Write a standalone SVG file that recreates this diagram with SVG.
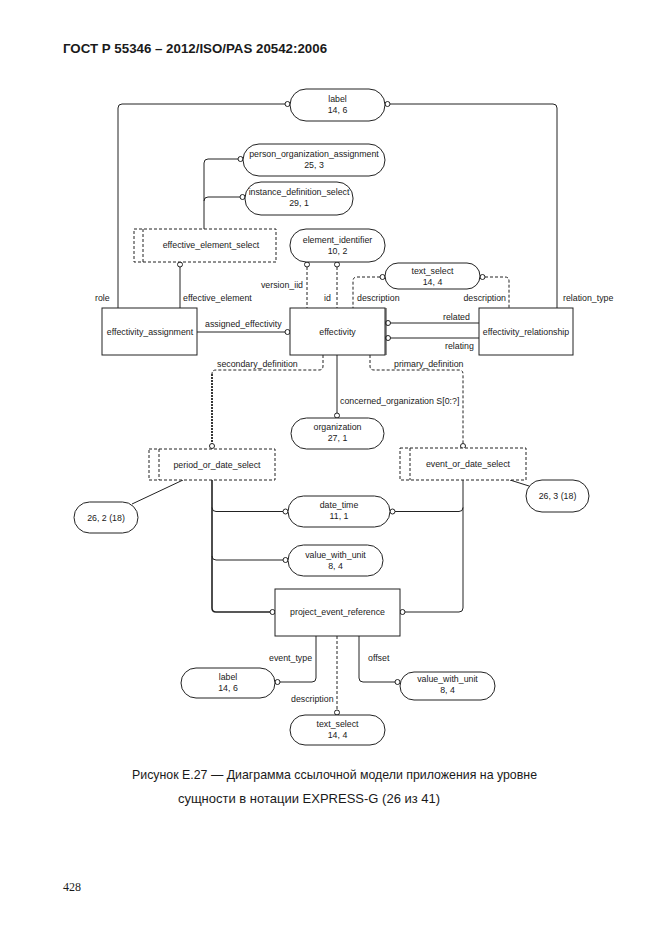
<svg xmlns="http://www.w3.org/2000/svg" width="662" height="935" viewBox="0 0 662 935">
<style>
text{font-family:"Liberation Sans",Arial,sans-serif;fill:#1a1a1a}
.n{font-size:8.8px;text-anchor:middle}
.l{font-size:8.8px}
.e{text-anchor:end}
.box{fill:#fff;stroke:#222;stroke-width:1}
.sel{fill:#fff;stroke:#222;stroke-width:1;stroke-dasharray:3 2}
.c{fill:none;stroke:#222;stroke-width:1}
.d{fill:none;stroke:#222;stroke-width:1;stroke-dasharray:3 2}
.o{fill:#fff;stroke:#222;stroke-width:1}
</style>
<rect width="662" height="935" fill="#fff"/>
<text x="63" y="53" style="font-size:13.3px;font-weight:bold">ГОСТ Р 55346 – 2012/ISO/PAS 20542:2006</text>

<g id="connectors">
<path class="c" d="M285,104 H122 Q118,104 118,108 V308"/>
<circle class="o" cx="287.5" cy="104" r="2.5"/>
<path class="c" d="M390,104 H553 Q557,104 557,108 V308"/>
<circle class="o" cx="387.5" cy="104" r="2.5"/>
<path class="c" d="M204,229 V163 Q204,159 208,159 H238"/>
<circle class="o" cx="240.5" cy="159" r="2.5"/>
<path class="c" d="M204,201 Q204,197 208,197 H240"/>
<circle class="o" cx="242.5" cy="197" r="2.5"/>
<path class="c" d="M180,267 V308"/>
<circle class="o" cx="180" cy="264.5" r="2.5"/>
<path class="d" d="M307,267 V308"/>
<circle class="o" cx="307" cy="264.5" r="2.5"/>
<path class="d" d="M337,267 V308"/>
<circle class="o" cx="337" cy="264.5" r="2.5"/>
<path class="d" d="M380,277 H357 Q353,277 353,281 V308"/>
<circle class="o" cx="382.5" cy="277" r="2.5"/>
<path class="d" d="M485,277 H505 Q509,277 509,281 V308"/>
<circle class="o" cx="482.5" cy="277" r="2.5"/>
<path class="c" d="M197,332 H285"/>
<circle class="o" cx="287.5" cy="332" r="2.5"/>
<path class="c" d="M390,323 H479"/>
<circle class="o" cx="388" cy="323" r="2.5"/>
<path class="c" d="M390,338 H479"/>
<circle class="o" cx="388" cy="338" r="2.5"/>
<path class="d" d="M323,355 V366 Q323,370 319,370 H216 Q212,370 212,374"/>
<path class="d" d="M212,374 V443.5" style="stroke-width:1.8;stroke-dasharray:2 1"/>
<circle class="o" cx="212" cy="446" r="2.5"/>
<path class="d" d="M370,355 V366 Q370,370 374,370 H459 Q463,370 463,374 V443.5"/>
<circle class="o" cx="463" cy="446" r="2.5"/>
<path class="c" d="M337,355 V413"/>
<circle class="o" cx="337" cy="415.5" r="2.5"/>
<path class="c" d="M212,480 V608 Q212,612 216,612 H270" style="stroke-width:1.6"/>
<path class="c" d="M212,507.5 Q212,511.5 216,511.5 H283"/>
<circle class="o" cx="285.5" cy="511.5" r="2.5"/>
<path class="c" d="M212,556 Q212,560 216,560 H283"/>
<circle class="o" cx="285.5" cy="560" r="2.5"/>
<circle class="o" cx="272.5" cy="612" r="2.5"/>
<path class="c" d="M463,480 V608 Q463,612 459,612 H405"/>
<circle class="o" cx="402.5" cy="612" r="2.5"/>
<path class="c" d="M463,507.5 Q463,511.5 459,511.5 H395"/>
<circle class="o" cx="392.5" cy="511.5" r="2.5"/>
<path class="c" d="M132,504 L183,480"/>
<path class="c" d="M529,486 L510,480"/>
<path class="c" d="M316,636 V678 Q316,682 312,682 H280"/>
<circle class="o" cx="277.5" cy="682" r="2.5"/>
<path class="d" d="M337,636 V710"/>
<circle class="o" cx="337" cy="712.5" r="2.5"/>
<path class="c" d="M359,636 V678 Q359,682 363,682 H395"/>
<circle class="o" cx="397.5" cy="682" r="2.5"/>
</g>

<g id="connector-labels" class="l">
<text x="95" y="301">role</text>
<text x="183" y="301">effective_element</text>
<text class="e" x="303" y="288">version_iid</text>
<text x="324" y="301">id</text>
<text x="357" y="301">description</text>
<text class="e" x="506" y="301">description</text>
<text x="563" y="301">relation_type</text>
<text x="205" y="327">assigned_effectivity</text>
<text x="443" y="320">related</text>
<text x="445" y="349">relating</text>
<text x="217" y="367">secondary_definition</text>
<text x="394" y="367">primary_definition</text>
<text x="340" y="404">concerned_organization S[0:?]</text>
<text x="269" y="661">event_type</text>
<text x="368" y="661">offset</text>
<text x="291" y="702">description</text>
</g>

<g id="label_top"><rect class="box" x="290" y="89" width="95" height="32" rx="16"/><text class="n" x="337.5" y="102">label</text><text class="n" x="337.5" y="113">14, 6</text></g>
<g id="person_organization_assignment"><rect class="box" x="243" y="144" width="142" height="32" rx="16"/><text class="n" x="314" y="157">person_organization_assignment</text><text class="n" x="314" y="168">25, 3</text></g>
<g id="instance_definition_select"><rect class="box" x="245" y="182" width="108" height="33" rx="16"/><text class="n" x="299" y="195">instance_definition_select</text><text class="n" x="299" y="206">29, 1</text></g>
<g id="effective_element_select"><rect class="sel" x="134" y="229" width="142" height="33"/><path class="d" d="M143,229 V262"/><text class="n" x="211" y="248">effective_element_select</text></g>
<g id="element_identifier"><rect class="box" x="290" y="229" width="95" height="33" rx="16"/><text class="n" x="337.5" y="243">element_identifier</text><text class="n" x="337.5" y="254">10, 2</text></g>
<g id="text_select_top"><rect class="box" x="385" y="263" width="95" height="26" rx="13"/><text class="n" x="432.5" y="274">text_select</text><text class="n" x="432.5" y="285">14, 4</text></g>
<g id="effectivity_assignment"><rect class="box" x="102" y="308" width="95" height="47"/><text class="n" x="150" y="335">effectivity_assignment</text></g>
<g id="effectivity"><rect class="box" x="290" y="308" width="95" height="47"/><path class="c" d="M386,308 V355"/><text class="n" x="337.5" y="335">effectivity</text></g>
<g id="effectivity_relationship"><rect class="box" x="479" y="308" width="94" height="47"/><text class="n" x="526" y="335">effectivity_relationship</text></g>
<g id="organization"><rect class="box" x="291" y="418" width="93" height="31" rx="15.5"/><text class="n" x="337.5" y="430">organization</text><text class="n" x="337.5" y="441">27, 1</text></g>
<g id="period_or_date_select"><rect class="sel" x="149" y="449" width="126" height="31"/><path class="d" d="M159,449 V480"/><text class="n" x="217" y="468">period_or_date_select</text></g>
<g id="event_or_date_select"><rect class="sel" x="400" y="448" width="126" height="32"/><path class="d" d="M410,448 V480"/><text class="n" x="468" y="467">event_or_date_select</text></g>
<g id="ref_26_2"><rect class="box" x="74" y="502" width="64" height="31" rx="15.5"/><text class="n" x="106" y="521">26, 2 (18)</text></g>
<g id="ref_26_3"><rect class="box" x="526" y="480" width="63" height="32" rx="16"/><text class="n" x="557.5" y="499">26, 3 (18)</text></g>
<g id="date_time"><rect class="box" x="288" y="496" width="102" height="31" rx="15.5"/><text class="n" x="339" y="508">date_time</text><text class="n" x="339" y="519">11, 1</text></g>
<g id="value_with_unit_1"><rect class="box" x="288" y="545" width="95" height="31" rx="15.5"/><text class="n" x="335.5" y="558">value_with_unit</text><text class="n" x="335.5" y="569">8, 4</text></g>
<g id="project_event_reference"><rect class="box" x="275" y="589" width="125" height="47"/><text class="n" x="337.5" y="615">project_event_reference</text></g>
<g id="label_bottom"><rect class="box" x="181" y="668" width="94" height="30" rx="15"/><text class="n" x="228" y="680">label</text><text class="n" x="228" y="691">14, 6</text></g>
<g id="value_with_unit_2"><rect class="box" x="400" y="672" width="95" height="28" rx="14"/><text class="n" x="447.5" y="682">value_with_unit</text><text class="n" x="447.5" y="693">8, 4</text></g>
<g id="text_select_bottom"><rect class="box" x="290" y="715" width="95" height="30" rx="15"/><text class="n" x="337.5" y="727">text_select</text><text class="n" x="337.5" y="738">14, 4</text></g>

<text x="132" y="779" textLength="405" lengthAdjust="spacingAndGlyphs" style="font-size:13px">Рисунок E.27 — Диаграмма ссылочной модели приложения на уровне</text>
<text x="309" y="803" style="font-size:13px;text-anchor:middle">сущности в нотации EXPRESS-G (26 из 41)</text>
<text x="63" y="891" style="font-family:'Liberation Serif',serif;font-size:12px">428</text>
</svg>
